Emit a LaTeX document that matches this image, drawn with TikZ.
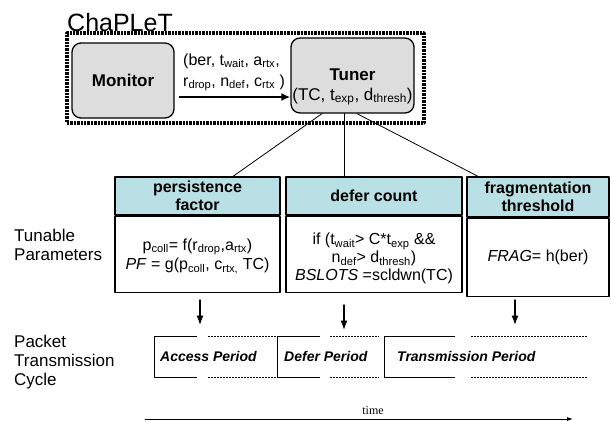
\documentclass[tikz,border=0pt]{standalone}
\usepackage{fontspec}
\setmainfont{Liberation Sans}
\newfontfamily\timefont{Liberation Serif}
\usetikzlibrary{positioning,arrows.meta}

\definecolor{hdrcyan}{RGB}{185,224,228}
\definecolor{boxgray}{RGB}{221,221,221}

\begin{document}
\begin{tikzpicture}[x=1pt, y=-1pt, >=Latex, line cap=round, line join=round,
		unit/.style={draw, line width=1.3pt, fill=boxgray, rounded corners=9pt, inner sep=0pt, font=\bfseries\fontsize{17}{20}\selectfont},
		hdr/.style={draw, line width=1.3pt, fill=hdrcyan, align=center, inner sep=0pt, font=\bfseries\fontsize{16}{18}\selectfont},
		body/.style={draw, line width=1.3pt, fill=white, inner sep=0pt, anchor=north},
		bodytxt/.style={align=center, inner sep=0pt, font=\fontsize{16}{18}\selectfont},
		side/.style={anchor=west, align=left, inner sep=0pt, font=\fontsize{17}{19}\selectfont},
		period/.style={anchor=west, inner sep=0pt, font=\bfseries\itshape\fontsize{14}{16}\selectfont},
		cyc/.style={line width=1pt, line cap=butt},
		cycdash/.style={line width=1pt, line cap=butt, dash pattern=on 2pt off 1pt}]
		\useasboundingbox (0,0) rectangle (611,421);
		
		% ChaPLeT frame with monitor and tuner
		\node[draw, line width=3.4pt, dash pattern=on 2.4pt off 1pt, line cap=butt, minimum width=357pt, minimum height=90pt, inner sep=0pt] (chaplet) at (245.5,78) {};
		\node[anchor=base west, inner sep=0pt, font=\fontsize{25}{28}\selectfont] (title) at (67,31) {ChaPLeT};
		
		\node[unit, minimum width=102pt, minimum height=75pt] (monitor) at (123,80.5) {Monitor};
		\node[unit, minimum width=123pt, minimum height=75pt] (tuner) at (352.5,75.5) {};
		\node[align=center, inner sep=0pt, font=\fontsize{17}{20}\selectfont] (tunertxt) at (352.5,87) {\textbf{Tuner}\\(TC, t\textsubscript{exp}, d\textsubscript{thresh})};
		
		\draw[-{Latex[length=9pt,width=8pt]}, line width=2.8pt, line cap=butt] ([xshift=4pt,yshift=-16.5pt]monitor.east) -- ([yshift=-21.5pt]tuner.west);
		\node[anchor=west, align=left, inner sep=0pt, font=\fontsize{16}{21}\selectfont] (feed) at (183,72.5) {(ber, t\textsubscript{wait}, a\textsubscript{rtx},\\r\textsubscript{drop}, n\textsubscript{def}, c\textsubscript{rtx} )};
		
		% tunable parameters
		\node[hdr, minimum width=165pt, minimum height=38pt] (pfhead) at (197.5,196) {persistence\\factor};
		\node[body, minimum width=165pt, minimum height=76pt] (pfbody) at (pfhead.south) {};
		\node[bodytxt, font=\fontsize{16}{19.5}\selectfont] (pftxt) at ([yshift=-2pt]pfbody.center) {p\textsubscript{coll}= f(r\textsubscript{drop},a\textsubscript{rtx})\\\textit{PF} = g(p\textsubscript{coll}, c\textsubscript{rtx,} TC)};
		
		\node[hdr, minimum width=176pt, minimum height=38pt] (dchead) at (374,196) {defer count};
		\node[body, minimum width=176pt, minimum height=76pt] (dcbody) at (dchead.south) {};
		\node[bodytxt] (dctxt) at ([yshift=-4pt]dcbody.center) {if (t\textsubscript{wait}> C*t\textsubscript{exp} \&\&\\n\textsubscript{def}> d\textsubscript{thresh})\\\textit{BSLOTS} =scldwn(TC)};
		
		\node[hdr, minimum width=142pt, minimum height=40pt] (frhead) at (538,197) {fragmentation\\threshold};
		\node[body, minimum width=142pt, minimum height=78pt] (frbody) at (frhead.south) {};
		\node[bodytxt] (frtxt) at (frbody.center) {\textit{FRAG}= h(ber)};
		
		\draw[line width=0.8pt] ([xshift=-30.5pt]tuner.south) -- ([xshift=35.5pt]pfhead.north);
		\draw[line width=0.8pt] ([xshift=-8.5pt]tuner.south) -- ([xshift=-30pt]dchead.north);
		\draw[line width=0.8pt] ([xshift=4.5pt]tuner.south) -- ([xshift=-60pt]frhead.north);
		
		\node[side] (tunable) at (14,245) {Tunable\\Parameters};
		\node[side] (ptc) at (14,362) {Packet\\Transmission\\Cycle};
		
		% arrows onto the cycle
		\coordinate (accin) at (200,325);
		\coordinate (defin) at (344,330);
		\coordinate (trin) at (515,325);
		\draw[->, line width=1.4pt] ([xshift=2.5pt,yshift=-7pt]pfbody.south) -- (accin);
		\draw[->, line width=1.4pt] ([xshift=-30pt,yshift=-12pt]dcbody.south) -- (defin);
		\draw[->, line width=1.4pt] ([xshift=-23pt,yshift=-3pt]frbody.south) -- (trin);
		
		% packet transmission cycle
		\foreach \xa/\xb/\xc/\xd in {154/197/208/277, 277/320/330/379, 384/455/471/587} {
			\draw[cyc] (\xb,336) -- (\xa,336) -- (\xa,377) -- (\xb,377);
			\draw[cycdash] (\xc,336) -- (\xd,336);
			\draw[cycdash] (\xc,377) -- (\xd,377);
		}
		\node[period] (access) at (160,356) {Access Period};
		\node[period] (defer) at (284,356) {Defer Period};
		\node[period] (trans) at (397,356) {Transmission Period};
		
		% time axis
		\node[font=\timefont\fontsize{12}{14}\selectfont, inner sep=0pt] (time) at (373,411) {time};
		\coordinate (t0) at (145,419);
		\coordinate (t1) at (573,419);
		\draw[-{Latex[length=6pt,width=4pt]}, line width=0.8pt] (t0) -- (t1);
	\end{tikzpicture}
\end{document}
